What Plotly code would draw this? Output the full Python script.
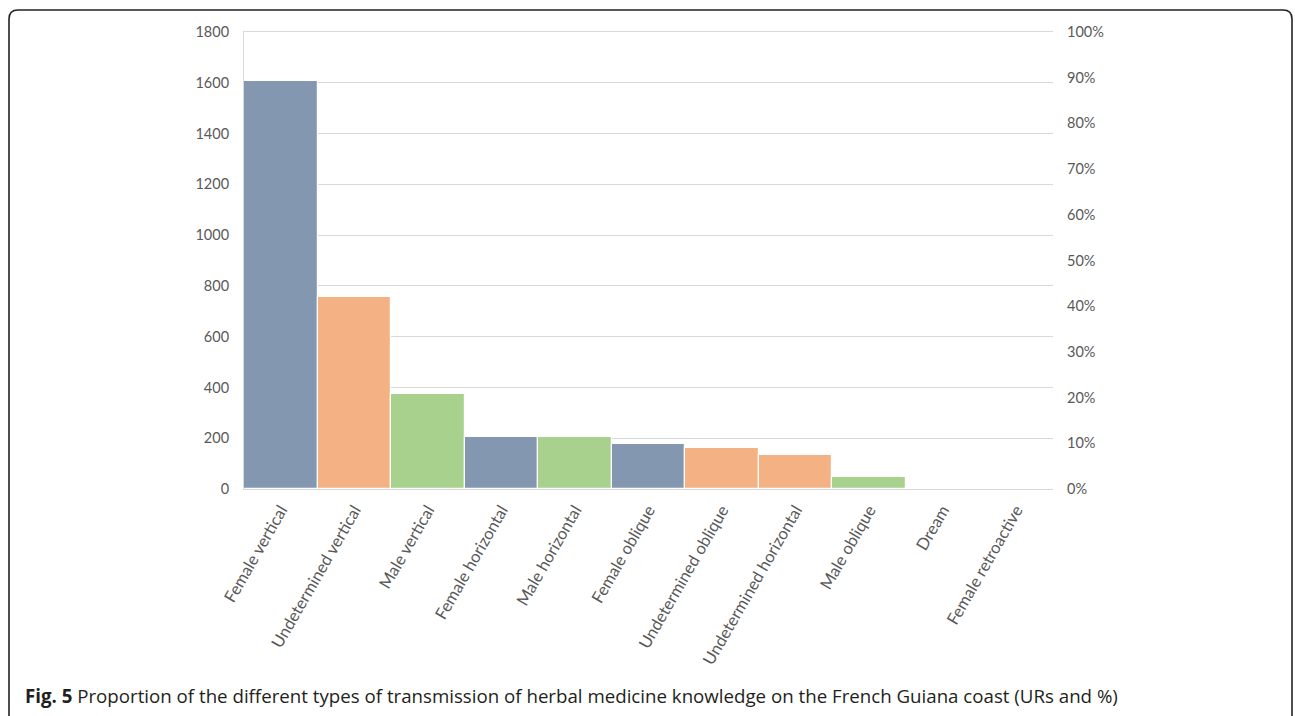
import plotly.graph_objects as go

categories = ["Female vertical", "Undetermined vertical", "Male vertical", "Female horizontal",
              "Male horizontal", "Female oblique", "Undetermined oblique", "Undetermined horizontal",
              "Male oblique", "Dream", "Female retroactive"]
values = [1608, 757, 376, 204, 204, 177, 161, 134, 46, 5, 1]
groups = ["Female", "Undetermined", "Male", "Female", "Male", "Female", "Undetermined",
          "Undetermined", "Male", "Dream", "Female"]
left_ticks = [0, 200, 400, 600, 800, 1000, 1200, 1400, 1600, 1800]
right_ticks = [0, 0.1, 0.2, 0.3, 0.4, 0.5, 0.6, 0.7, 0.8, 0.9, 1.0]

palette = {"Female": "#8497b0", "Undetermined": "#f4b183", "Male": "#a9d18e", "Dream": "#9db1c6"}
colors = [palette[g] for g in groups]
total = sum(values)
shares = [v / total for v in values]

W, H = 1295, 716
L, R, T, B = 244, 1053, 32, 489

fig = go.Figure()
fig.add_trace(go.Bar(x=categories, y=values, marker=dict(color=colors, line=dict(color="white", width=1.2)),
                     width=1, showlegend=False, hoverinfo="x+y"))
fig.add_trace(go.Scatter(x=categories, y=shares, yaxis="y2", mode="markers",
                         marker=dict(opacity=0), showlegend=False, hoverinfo="skip"))

numfont = dict(family="Lato", size=14.5, color="#595959")
catfont = dict(family="Lato", size=16.5, color="#595959")
fig.update_layout(
    width=W, height=H,
    margin=dict(l=L, r=W - R, t=T, b=H - B),
    plot_bgcolor="white", paper_bgcolor="white",
    bargap=0,
    xaxis=dict(tickangle=-60, tickfont=catfont, showgrid=False, showline=True, linecolor="#d9d9d9",
               mirror=True, linewidth=1, ticks="", range=[-0.5, 10.5], ticklabelstandoff=4),
    yaxis=dict(range=[0, 1800], tickvals=left_ticks, tickfont=numfont, gridcolor="#d9d9d9",
               gridwidth=1, showline=True, linecolor="#d9d9d9", linewidth=1, ticks="",
               ticklabelstandoff=11, zeroline=False),
    yaxis2=dict(range=[0, 1], tickvals=right_ticks, tickformat=".0%", overlaying="y", side="right",
                tickfont=numfont, showgrid=False, ticks="", ticklabelstandoff=13, zeroline=False,
                showline=False),
)

pw, ph = R - L, B - T
def px(x):
    return (x - L) / pw
def py(y):
    return (B - y) / ph

x0, x1, y0, y1, r = 9, 1292, 10, 760, 9
path = (f"M {px(x0)},{py(y0 + r)} Q {px(x0)},{py(y0)} {px(x0 + r)},{py(y0)} "
        f"L {px(x1 - r)},{py(y0)} Q {px(x1)},{py(y0)} {px(x1)},{py(y0 + r)} "
        f"L {px(x1)},{py(y1)} L {px(x0)},{py(y1)} Z")
fig.add_shape(type="path", path=path, xref="paper", yref="paper",
              line=dict(color="#222222", width=1.6), fillcolor="rgba(0,0,0,0)", layer="below")

fig.add_annotation(x=px(23), y=py(695), xref="paper", yref="paper", xanchor="left", yanchor="middle",
                   showarrow=False, align="left",
                   text="<b>Fig. 5</b> Proportion of the different types of transmission of herbal medicine "
                        "knowledge on the French Guiana coast (URs and %)",
                   font=dict(family="Open Sans", size=18.7, color="#231f20"))

fig.write_html("out.html", config={"displayModeBar": False},
               post_script="document.body.style.margin='0';document.body.style.overflow='hidden';")
